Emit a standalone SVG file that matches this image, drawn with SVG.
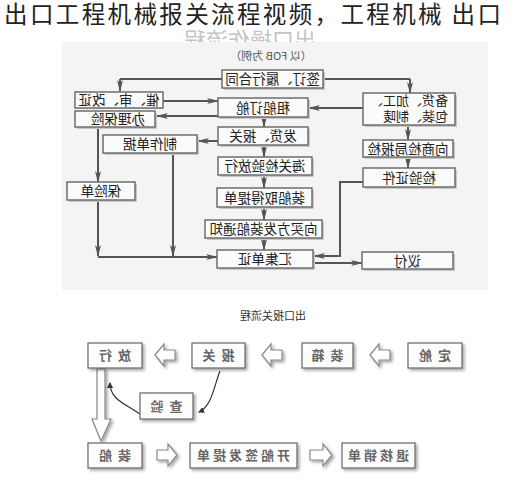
<svg xmlns="http://www.w3.org/2000/svg" width="521" height="500" viewBox="0 0 521 500">
<style>
.title{font-family:"Noto Sans CJK SC","Noto Sans",sans-serif;font-size:23.5px;fill:#222}
.t{font-family:"Noto Sans CJK SC","Noto Sans",sans-serif;font-size:13.5px;fill:#222;text-anchor:middle}
.ts{font-family:"Noto Sans CJK SC","Noto Sans",sans-serif;font-size:13px;fill:#222;text-anchor:start}
.sub{font-family:"Noto Sans CJK SC","Liberation Serif",serif;font-size:11px;fill:#555;text-anchor:middle}
.head{font-family:"Noto Sans CJK SC",sans-serif;font-size:22px;fill:#c4c4c4;text-anchor:middle}
.h2{font-family:"Noto Sans CJK SC",sans-serif;font-size:11px;fill:#333;text-anchor:middle}
.bx{fill:#fbfbfb;stroke:#6e6e6e;stroke-width:1.5}
.sh{fill:#c8c8c8}
.ln{fill:none;stroke:#555;stroke-width:2}
.b2{fill:#fdfdfd;stroke:#666;stroke-width:1.2}
.t2{font-family:"Noto Sans CJK SC",sans-serif;font-size:13px;font-weight:bold;fill:#666;text-anchor:middle;letter-spacing:6px}
.ha{fill:#fff;stroke:#888;stroke-width:1.2}
.cv{fill:none;stroke:#333;stroke-width:1.2}
</style>
<defs>
<marker id="ah" markerUnits="userSpaceOnUse" markerWidth="12" markerHeight="7" refX="11" refY="3.5" orient="auto">
<path d="M0,0.5 L12,3.5 L0,6.5 L3,3.5 z" fill="#555"/>
</marker>
<marker id="sm" markerUnits="userSpaceOnUse" markerWidth="6" markerHeight="6" refX="5" refY="3" orient="auto">
<path d="M0,0 L6,3 L0,6 z" fill="#333"/>
</marker>
<filter id="ds" x="-20%" y="-20%" width="150%" height="160%">
<feGaussianBlur in="SourceAlpha" stdDeviation="1.5"/>
<feOffset dx="1.5" dy="2" result="o"/>
<feComponentTransfer><feFuncA type="linear" slope="0.35"/></feComponentTransfer>
<feMerge><feMergeNode/><feMergeNode in="SourceGraphic"/></feMerge>
</filter>
<clipPath id="hc"><rect x="0" y="26" width="521" height="16"/></clipPath>
</defs>
<rect width="521" height="500" fill="#fff"/>
<rect x="62" y="42" width="426" height="248" fill="#f4f4f4"/>
<g clip-path="url(#hc)"><text class="head" transform="translate(250,48) scale(-1,1)">出口操作流程</text></g>
<text class="title" x="4" y="23" textLength="497" lengthAdjust="spacing">出口工程机械报关流程视频，工程机械 出口</text>
<text class="sub" transform="translate(271,60) scale(-1,1)">（以 FOB 为例）</text>

<g id="connectors">
<path class="ln" d="M120,79 H410"/>
<path class="ln" d="M120,79 V91" marker-end="url(#ah)"/>
<path class="ln" d="M410,79 V93" marker-end="url(#ah)"/>
<path class="ln" d="M163,101 H218" marker-end="url(#ah)"/>
<path class="ln" d="M218,116 H157" marker-end="url(#ah)"/>
<path class="ln" d="M363,108 H309" marker-end="url(#ah)"/>
<path class="ln" d="M218,141 H198" marker-end="url(#ah)"/>
<path class="ln" d="M264,117 V127" marker-end="url(#ah)"/>
<path class="ln" d="M264,145 V157" marker-end="url(#ah)"/>
<path class="ln" d="M264,175 V188" marker-end="url(#ah)"/>
<path class="ln" d="M264,207 V220" marker-end="url(#ah)"/>
<path class="ln" d="M264,238 V250" marker-end="url(#ah)"/>
<path class="ln" d="M408,125 V140" marker-end="url(#ah)"/>
<path class="ln" d="M408,157 V168" marker-end="url(#ah)"/>
<path class="ln" d="M363,182 H340 V256 H314" marker-end="url(#ah)"/>
<path class="ln" d="M313,263 H362" marker-end="url(#ah)"/>
<path class="ln" d="M98,127 V182" marker-end="url(#ah)"/>
<path class="ln" d="M98,200 V256" marker-end="url(#ah)"/>
<path class="ln" d="M98,257 H217" marker-end="url(#ah)"/>
<path class="ln" d="M173,153 V256" marker-end="url(#ah)"/>
<path class="ha" d="M155,355 L164,344 L164,350 L175,350 L175,360 L164,360 L164,366 Z" filter="url(#ds)"/>
<path class="ha" d="M262,355 L271,344 L271,350 L282,350 L282,360 L271,360 L271,366 Z" filter="url(#ds)"/>
<path class="ha" d="M370,355 L379,344 L379,350 L390,350 L390,360 L379,360 L379,366 Z" filter="url(#ds)"/>
<path class="ha" d="M177,455 L168,444 L168,450 L157,450 L157,460 L168,460 L168,466 Z" filter="url(#ds)"/>
<path class="ha" d="M332,455 L323,444 L323,450 L310,450 L310,460 L323,460 L323,466 Z" filter="url(#ds)"/>
<path class="ha" d="M97,369 H105 V419 H111 L101,441 L92,419 H97 Z" filter="url(#ds)"/>
<path class="cv" d="M140,414 C126,404 110,400 110,383" marker-end="url(#sm)"/>
<path class="cv" d="M220,371 C214,386 212,406 199,412" marker-end="url(#sm)"/>
</g>

<g id="n-contract"><rect class="sh" x="224" y="72" width="101" height="18"/><rect class="bx" x="222" y="70" width="101" height="18"/><text class="t" transform="translate(272.5,84) scale(-1,1)">签订、履行合同</text></g>
<g id="n-lc"><rect class="sh" x="77" y="94" width="86" height="15"/><rect class="bx" x="75" y="92" width="88" height="16"/><text class="t" transform="translate(119,105) scale(-1,1)">催、审、改证</text></g>
<g id="n-insure"><rect class="sh" x="77" y="113" width="80" height="16"/><rect class="bx" x="75" y="111" width="80" height="16"/><text class="t" transform="translate(118,124) scale(-1,1)">办理保险</text></g>
<g id="n-docs"><rect class="sh" x="105" y="137" width="94" height="18"/><rect class="bx" x="103" y="135" width="94" height="18"/><text class="t" transform="translate(150,149) scale(-1,1)">制作单据</text></g>
<g id="n-policy"><rect class="sh" x="69" y="184" width="68" height="18"/><rect class="bx" x="67" y="182" width="68" height="18"/><text class="t" transform="translate(101,196) scale(-1,1)">保险单</text></g>
<g id="n-ship"><rect class="sh" x="220" y="100" width="90" height="19"/><rect class="bx" x="218" y="98" width="90" height="19"/><text class="t" transform="translate(263,112.5) scale(-1,1)">租船订舱</text></g>
<g id="n-deliver"><rect class="sh" x="220" y="129" width="90" height="18"/><rect class="bx" x="218" y="127" width="90" height="18"/><text class="t" transform="translate(263,141) scale(-1,1)">发货、报关</text></g>
<g id="n-release"><rect class="sh" x="220" y="159" width="94" height="18"/><rect class="bx" x="218" y="157" width="94" height="18"/><text class="t" transform="translate(265,171) scale(-1,1)">海关检验放行</text></g>
<g id="n-bl"><rect class="sh" x="219" y="190" width="95" height="19"/><rect class="bx" x="217" y="188" width="95" height="19"/><text class="t" transform="translate(264.5,202.5) scale(-1,1)">装船取得提单</text></g>
<g id="n-notice"><rect class="sh" x="207" y="222" width="117" height="18"/><rect class="bx" x="205" y="220" width="117" height="18"/><text class="t" transform="translate(263.5,234) scale(-1,1)">向买方发装船通知</text></g>
<g id="n-collect"><rect class="sh" x="219" y="252" width="96" height="18"/><rect class="bx" x="217" y="250" width="96" height="18"/><text class="t" transform="translate(265,264) scale(-1,1)">汇集单证</text></g>
<g id="n-prepare"><rect class="sh" x="365" y="95" width="92" height="32"/><rect class="bx" x="363" y="93" width="92" height="32"/><text class="ts" transform="translate(448,105) scale(-1,1)">备货、加工、</text><text class="ts" transform="translate(448,121) scale(-1,1)">包装、制唛</text></g>
<g id="n-inspect"><rect class="sh" x="365" y="142" width="90" height="17"/><rect class="bx" x="363" y="140" width="90" height="17"/><text class="t" transform="translate(408,153.5) scale(-1,1)">向商检局报检</text></g>
<g id="n-cert"><rect class="sh" x="365" y="170" width="92" height="19"/><rect class="bx" x="363" y="168" width="92" height="19"/><text class="t" transform="translate(409,182.5) scale(-1,1)">检验证件</text></g>
<g id="n-nego"><rect class="sh" x="364" y="254" width="91" height="17"/><rect class="bx" x="362" y="252" width="91" height="17"/><text class="t" transform="translate(407.5,265.5) scale(-1,1)">议付</text></g>

<text class="h2" transform="translate(273,320) scale(-1,1)">出口报关流程</text>
<g id="b-release"><rect class="b2" x="88" y="343" width="54" height="25" filter="url(#ds)"/><text class="t2" transform="translate(112,360) scale(-1,1)">放行</text></g>
<g id="b-declare"><rect class="b2" x="192" y="343" width="53" height="25" filter="url(#ds)"/><text class="t2" transform="translate(215.5,360) scale(-1,1)">报关</text></g>
<g id="b-pack"><rect class="b2" x="302" y="343" width="51" height="25" filter="url(#ds)"/><text class="t2" transform="translate(324.5,360) scale(-1,1)">装箱</text></g>
<g id="b-book"><rect class="b2" x="408" y="343" width="54" height="25" filter="url(#ds)"/><text class="t2" transform="translate(432,360) scale(-1,1)">定舱</text></g>
<g id="b-check"><rect class="b2" x="140" y="393" width="53" height="26" filter="url(#ds)"/><text class="t2" transform="translate(163.5,410.5) scale(-1,1)">查验</text></g>
<g id="b-load"><rect class="b2" x="88" y="443" width="54" height="25" filter="url(#ds)"/><text class="t2" transform="translate(112,460) scale(-1,1)">装船</text></g>
<g id="b-sail"><rect class="b2" x="190" y="443" width="107" height="25" filter="url(#ds)"/><text class="t2" style="letter-spacing:3px" transform="translate(242,460) scale(-1,1)">开船签发提单</text></g>
<g id="b-refund"><rect class="b2" x="342" y="443" width="73" height="25" filter="url(#ds)"/><text class="t2" style="letter-spacing:3px" transform="translate(377,460) scale(-1,1)">退核销单</text></g>
</svg>
